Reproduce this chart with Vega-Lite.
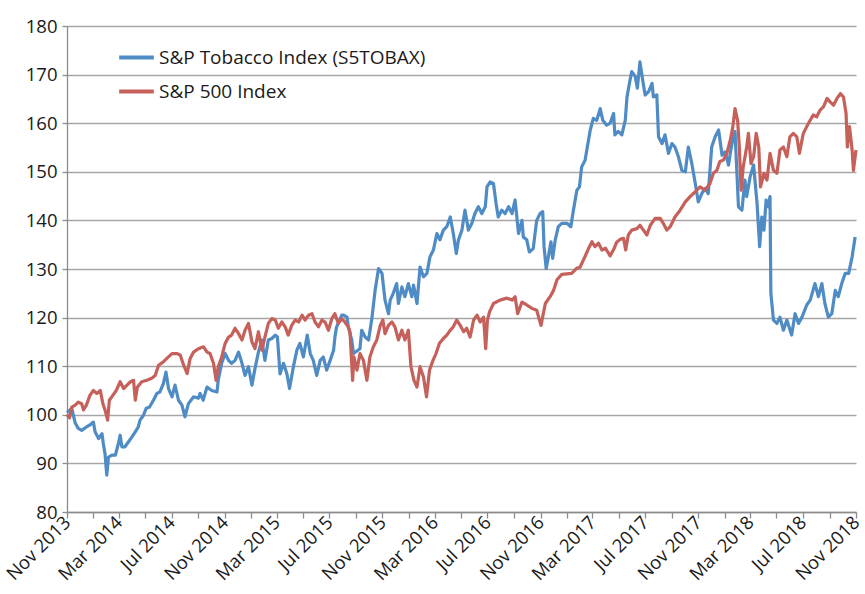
{
  "$schema": "https://vega.github.io/schema/vega-lite/v6.json",
  "width": 789,
  "height": 486,
  "autosize": {"type": "none"},
  "padding": {"left": 67, "top": 26, "right": 9, "bottom": 82},
  "background": "white",
  "config": {"view": {"stroke": null}, "font": "Open Sans"},
  "datasets": {
    "tobacco": [
      {"date": "2013-11-01", "value": 100.5}, {"date": "2013-11-12", "value": 101.3}, {"date": "2013-11-20", "value": 98.3}, {"date": "2013-11-27", "value": 97.2},
      {"date": "2013-12-05", "value": 96.8}, {"date": "2013-12-16", "value": 97.5}, {"date": "2013-12-24", "value": 97.9}, {"date": "2014-01-01", "value": 98.5},
      {"date": "2014-01-05", "value": 96.5}, {"date": "2014-01-13", "value": 95.1}, {"date": "2014-01-21", "value": 96.1}, {"date": "2014-01-24", "value": 94.1},
      {"date": "2014-01-28", "value": 92.0}, {"date": "2014-02-01", "value": 87.6}, {"date": "2014-02-05", "value": 91.3}, {"date": "2014-02-13", "value": 91.7},
      {"date": "2014-02-21", "value": 91.7}, {"date": "2014-02-28", "value": 94.1}, {"date": "2014-03-04", "value": 95.8}, {"date": "2014-03-08", "value": 93.4},
      {"date": "2014-03-15", "value": 93.4}, {"date": "2014-03-23", "value": 94.4}, {"date": "2014-03-31", "value": 95.4}, {"date": "2014-04-08", "value": 96.5},
      {"date": "2014-04-15", "value": 97.5}, {"date": "2014-04-19", "value": 98.9}, {"date": "2014-04-27", "value": 99.9}, {"date": "2014-05-03", "value": 101.3},
      {"date": "2014-05-11", "value": 101.6}, {"date": "2014-05-20", "value": 103.0}, {"date": "2014-05-28", "value": 104.4}, {"date": "2014-06-04", "value": 104.7},
      {"date": "2014-06-12", "value": 106.4}, {"date": "2014-06-18", "value": 108.8}, {"date": "2014-06-24", "value": 105.4}, {"date": "2014-07-02", "value": 103.7},
      {"date": "2014-07-09", "value": 106.1}, {"date": "2014-07-17", "value": 103.0}, {"date": "2014-07-25", "value": 102.0}, {"date": "2014-08-01", "value": 99.6},
      {"date": "2014-08-09", "value": 102.3}, {"date": "2014-08-21", "value": 103.7}, {"date": "2014-09-01", "value": 103.4}, {"date": "2014-09-05", "value": 104.4},
      {"date": "2014-09-12", "value": 103.0}, {"date": "2014-09-21", "value": 105.7}, {"date": "2014-10-02", "value": 105.0}, {"date": "2014-10-14", "value": 104.7},
      {"date": "2014-10-17", "value": 107.1}, {"date": "2014-10-25", "value": 110.6}, {"date": "2014-11-02", "value": 112.6}, {"date": "2014-11-10", "value": 111.2},
      {"date": "2014-11-17", "value": 110.6}, {"date": "2014-11-25", "value": 111.2}, {"date": "2014-12-03", "value": 112.9}, {"date": "2014-12-11", "value": 110.6},
      {"date": "2014-12-18", "value": 108.1}, {"date": "2014-12-26", "value": 109.9}, {"date": "2015-01-03", "value": 106.1}, {"date": "2015-01-10", "value": 109.5},
      {"date": "2015-01-18", "value": 112.9}, {"date": "2015-01-26", "value": 115.4}, {"date": "2015-02-02", "value": 111.2}, {"date": "2015-02-10", "value": 115.4},
      {"date": "2015-02-18", "value": 115.7}, {"date": "2015-02-26", "value": 116.4}, {"date": "2015-03-03", "value": 116.0}, {"date": "2015-03-09", "value": 108.4},
      {"date": "2015-03-17", "value": 110.6}, {"date": "2015-03-25", "value": 108.4}, {"date": "2015-03-31", "value": 105.4}, {"date": "2015-04-09", "value": 109.9},
      {"date": "2015-04-17", "value": 113.3}, {"date": "2015-04-24", "value": 114.7}, {"date": "2015-05-02", "value": 111.9}, {"date": "2015-05-11", "value": 116.4},
      {"date": "2015-05-18", "value": 112.6}, {"date": "2015-05-25", "value": 111.2}, {"date": "2015-06-02", "value": 108.1}, {"date": "2015-06-10", "value": 111.2},
      {"date": "2015-06-17", "value": 111.9}, {"date": "2015-06-25", "value": 109.2}, {"date": "2015-07-03", "value": 111.2}, {"date": "2015-07-11", "value": 113.3},
      {"date": "2015-07-14", "value": 116.0}, {"date": "2015-07-18", "value": 118.1}, {"date": "2015-07-30", "value": 120.5}, {"date": "2015-08-03", "value": 120.5},
      {"date": "2015-08-11", "value": 120.1}, {"date": "2015-08-14", "value": 118.1}, {"date": "2015-08-22", "value": 115.4}, {"date": "2015-08-26", "value": 112.6},
      {"date": "2015-09-10", "value": 113.6}, {"date": "2015-09-14", "value": 117.4}, {"date": "2015-09-22", "value": 116.0}, {"date": "2015-09-30", "value": 115.4},
      {"date": "2015-10-08", "value": 120.1}, {"date": "2015-10-15", "value": 125.6}, {"date": "2015-10-23", "value": 130.1}, {"date": "2015-10-31", "value": 129.1},
      {"date": "2015-11-07", "value": 123.6}, {"date": "2015-11-15", "value": 120.8}, {"date": "2015-11-19", "value": 123.6}, {"date": "2015-11-26", "value": 125.0},
      {"date": "2015-12-04", "value": 127.0}, {"date": "2015-12-08", "value": 122.9}, {"date": "2015-12-16", "value": 126.3}, {"date": "2015-12-23", "value": 124.3},
      {"date": "2015-12-31", "value": 127.0}, {"date": "2016-01-08", "value": 124.3}, {"date": "2016-01-12", "value": 126.7}, {"date": "2016-01-20", "value": 122.9},
      {"date": "2016-01-27", "value": 130.4}, {"date": "2016-02-04", "value": 128.4}, {"date": "2016-02-12", "value": 129.1}, {"date": "2016-02-19", "value": 132.5},
      {"date": "2016-02-27", "value": 133.9}, {"date": "2016-03-06", "value": 137.3}, {"date": "2016-03-13", "value": 136.0}, {"date": "2016-03-21", "value": 138.0},
      {"date": "2016-03-29", "value": 138.7}, {"date": "2016-04-06", "value": 140.7}, {"date": "2016-04-13", "value": 137.3}, {"date": "2016-04-20", "value": 133.2},
      {"date": "2016-04-25", "value": 136.0}, {"date": "2016-05-03", "value": 138.0}, {"date": "2016-05-10", "value": 142.1}, {"date": "2016-05-18", "value": 138.0},
      {"date": "2016-05-26", "value": 139.4}, {"date": "2016-06-02", "value": 141.4}, {"date": "2016-06-10", "value": 142.8}, {"date": "2016-06-18", "value": 141.4},
      {"date": "2016-06-26", "value": 142.8}, {"date": "2016-06-30", "value": 146.9}, {"date": "2016-07-07", "value": 147.9}, {"date": "2016-07-15", "value": 147.6},
      {"date": "2016-07-21", "value": 143.5}, {"date": "2016-07-26", "value": 140.7}, {"date": "2016-08-03", "value": 142.1}, {"date": "2016-08-11", "value": 141.4},
      {"date": "2016-08-19", "value": 142.8}, {"date": "2016-08-27", "value": 141.4}, {"date": "2016-09-03", "value": 144.2}, {"date": "2016-09-11", "value": 137.3},
      {"date": "2016-09-19", "value": 140.0}, {"date": "2016-09-22", "value": 136.6}, {"date": "2016-09-30", "value": 136.0}, {"date": "2016-10-06", "value": 133.5},
      {"date": "2016-10-15", "value": 134.2}, {"date": "2016-10-23", "value": 140.0}, {"date": "2016-10-31", "value": 141.4}, {"date": "2016-11-06", "value": 141.8},
      {"date": "2016-11-09", "value": 134.6}, {"date": "2016-11-14", "value": 130.1}, {"date": "2016-11-19", "value": 132.5}, {"date": "2016-11-25", "value": 135.6},
      {"date": "2016-11-29", "value": 132.2}, {"date": "2016-12-05", "value": 136.0}, {"date": "2016-12-12", "value": 138.7}, {"date": "2016-12-20", "value": 139.4},
      {"date": "2017-01-01", "value": 139.4}, {"date": "2017-01-10", "value": 138.7}, {"date": "2017-01-16", "value": 142.1}, {"date": "2017-01-24", "value": 146.2},
      {"date": "2017-01-30", "value": 146.9}, {"date": "2017-02-04", "value": 151.0}, {"date": "2017-02-12", "value": 152.4}, {"date": "2017-02-16", "value": 154.5},
      {"date": "2017-02-24", "value": 158.6}, {"date": "2017-03-03", "value": 161.0}, {"date": "2017-03-11", "value": 160.6}, {"date": "2017-03-19", "value": 163.0},
      {"date": "2017-03-25", "value": 160.6}, {"date": "2017-04-03", "value": 159.6}, {"date": "2017-04-11", "value": 160.0}, {"date": "2017-04-19", "value": 162.0},
      {"date": "2017-04-22", "value": 157.6}, {"date": "2017-04-30", "value": 158.3}, {"date": "2017-05-08", "value": 157.6}, {"date": "2017-05-16", "value": 160.6},
      {"date": "2017-05-20", "value": 165.4}, {"date": "2017-05-26", "value": 168.4}, {"date": "2017-05-31", "value": 170.6}, {"date": "2017-06-08", "value": 169.6},
      {"date": "2017-06-13", "value": 167.2}, {"date": "2017-06-19", "value": 172.6}, {"date": "2017-06-26", "value": 168.5}, {"date": "2017-07-01", "value": 165.8},
      {"date": "2017-07-09", "value": 166.5}, {"date": "2017-07-17", "value": 168.2}, {"date": "2017-07-20", "value": 165.4}, {"date": "2017-07-28", "value": 165.8},
      {"date": "2017-08-01", "value": 157.2}, {"date": "2017-08-09", "value": 155.8}, {"date": "2017-08-16", "value": 157.6}, {"date": "2017-08-24", "value": 153.8},
      {"date": "2017-09-01", "value": 155.8}, {"date": "2017-09-08", "value": 155.1}, {"date": "2017-09-16", "value": 153.1}, {"date": "2017-09-24", "value": 150.3},
      {"date": "2017-10-02", "value": 150.0}, {"date": "2017-10-09", "value": 155.1}, {"date": "2017-10-17", "value": 151.7}, {"date": "2017-10-25", "value": 147.6},
      {"date": "2017-11-01", "value": 143.8}, {"date": "2017-11-09", "value": 145.5}, {"date": "2017-11-17", "value": 146.6}, {"date": "2017-11-24", "value": 145.5},
      {"date": "2017-12-02", "value": 155.1}, {"date": "2017-12-10", "value": 157.2}, {"date": "2017-12-18", "value": 158.6}, {"date": "2017-12-26", "value": 153.4},
      {"date": "2018-01-02", "value": 154.1}, {"date": "2018-01-10", "value": 151.4}, {"date": "2018-01-14", "value": 153.8}, {"date": "2018-01-21", "value": 157.2},
      {"date": "2018-01-25", "value": 158.3}, {"date": "2018-02-02", "value": 142.8}, {"date": "2018-02-10", "value": 142.1}, {"date": "2018-02-17", "value": 148.3},
      {"date": "2018-02-21", "value": 144.9}, {"date": "2018-03-01", "value": 149.0}, {"date": "2018-03-09", "value": 151.4}, {"date": "2018-03-17", "value": 143.5},
      {"date": "2018-03-23", "value": 134.6}, {"date": "2018-03-28", "value": 140.7}, {"date": "2018-04-02", "value": 138.0}, {"date": "2018-04-07", "value": 144.2},
      {"date": "2018-04-12", "value": 142.8}, {"date": "2018-04-16", "value": 144.9}, {"date": "2018-04-18", "value": 125.0}, {"date": "2018-04-24", "value": 119.5},
      {"date": "2018-05-02", "value": 118.8}, {"date": "2018-05-09", "value": 120.1}, {"date": "2018-05-17", "value": 117.4}, {"date": "2018-05-25", "value": 119.5},
      {"date": "2018-06-05", "value": 116.4}, {"date": "2018-06-13", "value": 120.8}, {"date": "2018-06-21", "value": 118.8}, {"date": "2018-06-29", "value": 120.1},
      {"date": "2018-07-10", "value": 122.6}, {"date": "2018-07-18", "value": 123.6}, {"date": "2018-07-29", "value": 127.0}, {"date": "2018-08-06", "value": 124.3},
      {"date": "2018-08-14", "value": 127.0}, {"date": "2018-08-21", "value": 122.9}, {"date": "2018-08-29", "value": 120.1}, {"date": "2018-09-06", "value": 120.8},
      {"date": "2018-09-14", "value": 125.6}, {"date": "2018-09-21", "value": 124.3}, {"date": "2018-09-29", "value": 127.0}, {"date": "2018-10-07", "value": 129.1},
      {"date": "2018-10-15", "value": 129.1}, {"date": "2018-10-23", "value": 132.5}, {"date": "2018-10-30", "value": 136.6}
    ],
    "sp500": [
      {"date": "2013-11-01", "value": 100.0}, {"date": "2013-11-07", "value": 99.4}, {"date": "2013-11-12", "value": 101.6}, {"date": "2013-11-20", "value": 102.0},
      {"date": "2013-11-27", "value": 102.6}, {"date": "2013-12-05", "value": 102.3}, {"date": "2013-12-09", "value": 101.0}, {"date": "2013-12-16", "value": 102.0},
      {"date": "2013-12-24", "value": 104.0}, {"date": "2014-01-01", "value": 105.0}, {"date": "2014-01-09", "value": 104.4}, {"date": "2014-01-17", "value": 105.0},
      {"date": "2014-01-23", "value": 102.3}, {"date": "2014-01-28", "value": 101.0}, {"date": "2014-02-03", "value": 98.9}, {"date": "2014-02-07", "value": 103.0},
      {"date": "2014-02-15", "value": 104.0}, {"date": "2014-02-23", "value": 105.0}, {"date": "2014-03-04", "value": 106.8}, {"date": "2014-03-12", "value": 105.4},
      {"date": "2014-03-20", "value": 106.1}, {"date": "2014-03-28", "value": 106.8}, {"date": "2014-04-04", "value": 107.1}, {"date": "2014-04-08", "value": 103.0},
      {"date": "2014-04-13", "value": 105.7}, {"date": "2014-04-23", "value": 106.8}, {"date": "2014-05-05", "value": 107.1}, {"date": "2014-05-16", "value": 107.5},
      {"date": "2014-05-24", "value": 108.1}, {"date": "2014-06-01", "value": 110.2}, {"date": "2014-06-12", "value": 110.9}, {"date": "2014-06-20", "value": 111.6},
      {"date": "2014-07-02", "value": 112.6}, {"date": "2014-07-13", "value": 112.6}, {"date": "2014-07-21", "value": 112.3}, {"date": "2014-07-29", "value": 110.2},
      {"date": "2014-08-06", "value": 108.5}, {"date": "2014-08-13", "value": 111.6}, {"date": "2014-08-21", "value": 112.9}, {"date": "2014-09-01", "value": 113.6},
      {"date": "2014-09-13", "value": 114.0}, {"date": "2014-09-21", "value": 112.9}, {"date": "2014-09-28", "value": 112.6}, {"date": "2014-10-06", "value": 110.6},
      {"date": "2014-10-12", "value": 107.1}, {"date": "2014-10-17", "value": 109.9}, {"date": "2014-10-25", "value": 111.9}, {"date": "2014-11-02", "value": 114.7},
      {"date": "2014-11-10", "value": 116.0}, {"date": "2014-11-17", "value": 116.4}, {"date": "2014-11-25", "value": 117.8}, {"date": "2014-12-03", "value": 116.7},
      {"date": "2014-12-11", "value": 115.4}, {"date": "2014-12-18", "value": 117.4}, {"date": "2014-12-26", "value": 118.8}, {"date": "2015-01-03", "value": 115.0},
      {"date": "2015-01-10", "value": 113.6}, {"date": "2015-01-18", "value": 117.1}, {"date": "2015-01-26", "value": 113.3}, {"date": "2015-02-02", "value": 116.0},
      {"date": "2015-02-10", "value": 118.8}, {"date": "2015-02-18", "value": 119.8}, {"date": "2015-02-26", "value": 119.5}, {"date": "2015-03-05", "value": 117.8},
      {"date": "2015-03-13", "value": 119.1}, {"date": "2015-03-21", "value": 118.1}, {"date": "2015-03-28", "value": 116.4}, {"date": "2015-04-05", "value": 118.4},
      {"date": "2015-04-13", "value": 119.5}, {"date": "2015-04-21", "value": 119.1}, {"date": "2015-04-29", "value": 120.5}, {"date": "2015-05-06", "value": 119.5},
      {"date": "2015-05-14", "value": 120.5}, {"date": "2015-05-22", "value": 120.8}, {"date": "2015-05-29", "value": 119.1}, {"date": "2015-06-06", "value": 118.1},
      {"date": "2015-06-14", "value": 119.5}, {"date": "2015-06-21", "value": 119.1}, {"date": "2015-06-29", "value": 117.4}, {"date": "2015-07-07", "value": 119.8},
      {"date": "2015-07-14", "value": 120.8}, {"date": "2015-07-22", "value": 118.8}, {"date": "2015-07-30", "value": 119.8}, {"date": "2015-08-06", "value": 119.1},
      {"date": "2015-08-14", "value": 118.1}, {"date": "2015-08-18", "value": 117.0}, {"date": "2015-08-24", "value": 107.1}, {"date": "2015-08-27", "value": 111.9},
      {"date": "2015-09-03", "value": 109.2}, {"date": "2015-09-10", "value": 112.6}, {"date": "2015-09-18", "value": 111.2}, {"date": "2015-09-26", "value": 107.1},
      {"date": "2015-10-03", "value": 111.9}, {"date": "2015-10-11", "value": 114.0}, {"date": "2015-10-19", "value": 115.4}, {"date": "2015-10-27", "value": 118.4},
      {"date": "2015-11-02", "value": 119.5}, {"date": "2015-11-07", "value": 116.7}, {"date": "2015-11-15", "value": 118.4}, {"date": "2015-11-23", "value": 119.1},
      {"date": "2015-11-30", "value": 118.1}, {"date": "2015-12-08", "value": 115.4}, {"date": "2015-12-16", "value": 117.4}, {"date": "2015-12-23", "value": 115.4},
      {"date": "2015-12-31", "value": 117.4}, {"date": "2016-01-06", "value": 109.9}, {"date": "2016-01-13", "value": 107.1}, {"date": "2016-01-20", "value": 105.7},
      {"date": "2016-01-27", "value": 109.9}, {"date": "2016-02-04", "value": 107.8}, {"date": "2016-02-11", "value": 103.7}, {"date": "2016-02-18", "value": 109.2},
      {"date": "2016-02-26", "value": 111.2}, {"date": "2016-03-04", "value": 112.6}, {"date": "2016-03-12", "value": 114.7}, {"date": "2016-03-21", "value": 115.7},
      {"date": "2016-03-29", "value": 116.4}, {"date": "2016-04-06", "value": 117.4}, {"date": "2016-04-13", "value": 118.1}, {"date": "2016-04-21", "value": 119.5},
      {"date": "2016-04-29", "value": 118.4}, {"date": "2016-05-07", "value": 117.1}, {"date": "2016-05-14", "value": 117.8}, {"date": "2016-05-22", "value": 116.0},
      {"date": "2016-05-30", "value": 119.5}, {"date": "2016-06-07", "value": 120.5}, {"date": "2016-06-14", "value": 119.1}, {"date": "2016-06-22", "value": 120.1},
      {"date": "2016-06-27", "value": 113.6}, {"date": "2016-07-01", "value": 119.5}, {"date": "2016-07-06", "value": 121.2}, {"date": "2016-07-15", "value": 122.9},
      {"date": "2016-07-30", "value": 123.6}, {"date": "2016-08-15", "value": 124.0}, {"date": "2016-08-27", "value": 123.6}, {"date": "2016-09-03", "value": 124.3},
      {"date": "2016-09-09", "value": 120.8}, {"date": "2016-09-19", "value": 123.2}, {"date": "2016-09-30", "value": 122.6}, {"date": "2016-10-12", "value": 121.9},
      {"date": "2016-10-23", "value": 121.5}, {"date": "2016-11-02", "value": 118.4}, {"date": "2016-11-12", "value": 122.9}, {"date": "2016-11-23", "value": 124.3},
      {"date": "2016-12-01", "value": 125.6}, {"date": "2016-12-09", "value": 127.8}, {"date": "2016-12-20", "value": 128.9}, {"date": "2017-01-01", "value": 129.0},
      {"date": "2017-01-12", "value": 129.1}, {"date": "2017-01-24", "value": 130.2}, {"date": "2017-01-31", "value": 130.3}, {"date": "2017-02-12", "value": 132.6},
      {"date": "2017-02-20", "value": 134.2}, {"date": "2017-02-28", "value": 135.6}, {"date": "2017-03-07", "value": 134.6}, {"date": "2017-03-15", "value": 135.3},
      {"date": "2017-03-23", "value": 133.9}, {"date": "2017-03-31", "value": 134.3}, {"date": "2017-04-11", "value": 132.7}, {"date": "2017-04-19", "value": 134.0},
      {"date": "2017-04-26", "value": 135.5}, {"date": "2017-05-04", "value": 136.1}, {"date": "2017-05-12", "value": 136.3}, {"date": "2017-05-17", "value": 133.9},
      {"date": "2017-05-23", "value": 137.0}, {"date": "2017-05-31", "value": 138.0}, {"date": "2017-06-12", "value": 138.3}, {"date": "2017-06-19", "value": 139.0},
      {"date": "2017-06-27", "value": 138.0}, {"date": "2017-07-05", "value": 137.0}, {"date": "2017-07-13", "value": 139.0}, {"date": "2017-07-24", "value": 140.4},
      {"date": "2017-08-05", "value": 140.4}, {"date": "2017-08-12", "value": 139.4}, {"date": "2017-08-20", "value": 138.0}, {"date": "2017-08-28", "value": 138.7},
      {"date": "2017-09-08", "value": 140.7}, {"date": "2017-09-20", "value": 142.1}, {"date": "2017-10-02", "value": 143.8}, {"date": "2017-10-13", "value": 144.9},
      {"date": "2017-10-25", "value": 145.9}, {"date": "2017-11-05", "value": 146.9}, {"date": "2017-11-17", "value": 146.2}, {"date": "2017-11-28", "value": 147.6},
      {"date": "2017-12-06", "value": 149.7}, {"date": "2017-12-14", "value": 150.3}, {"date": "2017-12-21", "value": 152.1}, {"date": "2017-12-29", "value": 152.4},
      {"date": "2018-01-06", "value": 153.8}, {"date": "2018-01-14", "value": 156.5}, {"date": "2018-01-20", "value": 159.3}, {"date": "2018-01-25", "value": 163.0},
      {"date": "2018-01-31", "value": 160.6}, {"date": "2018-02-04", "value": 155.1}, {"date": "2018-02-08", "value": 146.2}, {"date": "2018-02-13", "value": 151.0},
      {"date": "2018-02-21", "value": 155.1}, {"date": "2018-02-25", "value": 157.9}, {"date": "2018-03-03", "value": 151.7}, {"date": "2018-03-09", "value": 153.1},
      {"date": "2018-03-15", "value": 157.9}, {"date": "2018-03-21", "value": 155.1}, {"date": "2018-03-25", "value": 146.9}, {"date": "2018-04-02", "value": 149.7},
      {"date": "2018-04-09", "value": 148.3}, {"date": "2018-04-16", "value": 153.8}, {"date": "2018-04-24", "value": 150.3}, {"date": "2018-05-02", "value": 149.7},
      {"date": "2018-05-09", "value": 154.5}, {"date": "2018-05-17", "value": 155.1}, {"date": "2018-05-25", "value": 153.1}, {"date": "2018-06-01", "value": 157.2},
      {"date": "2018-06-09", "value": 157.9}, {"date": "2018-06-17", "value": 157.2}, {"date": "2018-06-23", "value": 153.8}, {"date": "2018-07-02", "value": 157.9},
      {"date": "2018-07-10", "value": 159.3}, {"date": "2018-07-18", "value": 160.6}, {"date": "2018-07-25", "value": 161.7}, {"date": "2018-08-02", "value": 161.3},
      {"date": "2018-08-10", "value": 162.7}, {"date": "2018-08-18", "value": 163.4}, {"date": "2018-08-26", "value": 165.1}, {"date": "2018-09-02", "value": 164.4},
      {"date": "2018-09-10", "value": 163.7}, {"date": "2018-09-18", "value": 165.1}, {"date": "2018-09-26", "value": 166.1}, {"date": "2018-10-03", "value": 165.4},
      {"date": "2018-10-09", "value": 162.0}, {"date": "2018-10-12", "value": 155.1}, {"date": "2018-10-17", "value": 159.3}, {"date": "2018-10-23", "value": 154.5},
      {"date": "2018-10-26", "value": 150.3}, {"date": "2018-11-01", "value": 154.5}
    ]
  },
  "encoding": {
    "x": {
      "field": "date",
      "type": "temporal",
      "scale": {
        "type": "utc",
        "domain": [
          {"year": 2013, "month": 11, "date": 1, "utc": true},
          {"year": 2018, "month": 11, "date": 1, "utc": true}
        ]
      },
      "axis": {
        "title": null,
        "grid": false,
        "values": [
          {"year": 2013, "month": 11, "date": 1, "utc": true},
          {"year": 2014, "month": 1, "date": 1, "utc": true},
          {"year": 2014, "month": 3, "date": 1, "utc": true},
          {"year": 2014, "month": 5, "date": 1, "utc": true},
          {"year": 2014, "month": 7, "date": 1, "utc": true},
          {"year": 2014, "month": 9, "date": 1, "utc": true},
          {"year": 2014, "month": 11, "date": 1, "utc": true},
          {"year": 2015, "month": 1, "date": 1, "utc": true},
          {"year": 2015, "month": 3, "date": 1, "utc": true},
          {"year": 2015, "month": 5, "date": 1, "utc": true},
          {"year": 2015, "month": 7, "date": 1, "utc": true},
          {"year": 2015, "month": 9, "date": 1, "utc": true},
          {"year": 2015, "month": 11, "date": 1, "utc": true},
          {"year": 2016, "month": 1, "date": 1, "utc": true},
          {"year": 2016, "month": 3, "date": 1, "utc": true},
          {"year": 2016, "month": 5, "date": 1, "utc": true},
          {"year": 2016, "month": 7, "date": 1, "utc": true},
          {"year": 2016, "month": 9, "date": 1, "utc": true},
          {"year": 2016, "month": 11, "date": 1, "utc": true},
          {"year": 2017, "month": 1, "date": 1, "utc": true},
          {"year": 2017, "month": 3, "date": 1, "utc": true},
          {"year": 2017, "month": 5, "date": 1, "utc": true},
          {"year": 2017, "month": 7, "date": 1, "utc": true},
          {"year": 2017, "month": 9, "date": 1, "utc": true},
          {"year": 2017, "month": 11, "date": 1, "utc": true},
          {"year": 2018, "month": 1, "date": 1, "utc": true},
          {"year": 2018, "month": 3, "date": 1, "utc": true},
          {"year": 2018, "month": 5, "date": 1, "utc": true},
          {"year": 2018, "month": 7, "date": 1, "utc": true},
          {"year": 2018, "month": 9, "date": 1, "utc": true},
          {"year": 2018, "month": 11, "date": 1, "utc": true}
        ],
        "labelExpr": "(utcmonth(datum.value) + 2) % 4 == 0 ? utcFormat(datum.value, '%b %Y') : ''",
        "labelAngle": -45,
        "labelAlign": "right",
        "labelBaseline": "middle",
        "labelOverlap": false,
        "labelBound": false,
        "labelFlush": false,
        "labelFontSize": 18.5,
        "labelColor": "#1a1a1a",
        "labelPadding": 1,
        "domainColor": "#8c8c8c",
        "domainWidth": 1.3,
        "tickColor": "#8c8c8c",
        "tickWidth": 1.3,
        "tickSize": 6
      }
    },
    "y": {
      "field": "value",
      "type": "quantitative",
      "scale": {"domain": [80, 180], "nice": false, "zero": false},
      "axis": {
        "title": null,
        "values": [80, 90, 100, 110, 120, 130, 140, 150, 160, 170, 180],
        "grid": true,
        "gridColor": "#a6a6a6",
        "gridWidth": 1.3,
        "domainColor": "#8c8c8c",
        "domainWidth": 1.3,
        "tickColor": "#8c8c8c",
        "tickWidth": 1.3,
        "tickSize": 5,
        "labelFontSize": 18.5,
        "labelColor": "#1a1a1a",
        "labelPadding": 5
      }
    }
  },
  "layer": [
    {
      "data": {"name": "tobacco"},
      "mark": {"type": "line", "strokeWidth": 3.2, "strokeJoin": "round"},
      "encoding": {
        "color": {
          "datum": "S&P Tobacco Index (S5TOBAX)",
          "type": "nominal",
          "scale": {
            "domain": ["S&P Tobacco Index (S5TOBAX)", "S&P 500 Index"],
            "range": ["#4f8bc5", "#c6605a"]
          },
          "legend": {
            "title": null,
            "orient": "none",
            "legendX": 50,
            "legendY": 12,
            "symbolType": "stroke",
            "symbolSize": 1200,
            "symbolStrokeWidth": 4,
            "labelFontSize": 19,
            "labelColor": "#1a1a1a",
            "labelOffset": 3,
            "rowPadding": 4,
            "labelLimit": 400
          }
        }
      }
    },
    {
      "data": {"name": "sp500"},
      "mark": {"type": "line", "strokeWidth": 3.2, "strokeJoin": "round"},
      "encoding": {
        "color": {"datum": "S&P 500 Index", "type": "nominal"}
      }
    }
  ]
}
